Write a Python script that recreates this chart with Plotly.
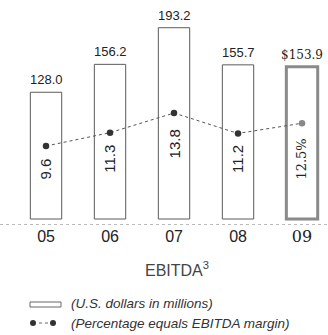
import plotly.graph_objects as go

years = ["05", "06", "07", "08", "09"]
ebitda = [128.0, 156.2, 193.2, 155.7, 153.9]
ebitda_labels = ["128.0", "156.2", "193.2", "155.7", "$153.9"]
margin_pct = [9.6, 11.3, 13.8, 11.2, 12.5]
margin_labels = ["9.6", "11.3", "13.8", "11.2", "12.5%"]

W, H = 328, 335
PLOT_BOTTOM = 225  # px from top
SANS = "Liberation Sans, Arial, sans-serif"
SERIF = "DejaVu Serif, serif"
NARROW = "Liberation Sans Narrow, Liberation Sans, Arial, sans-serif"

x_idx = list(range(len(years)))
fonts = [SANS] * 4 + [SERIF]

fig = go.Figure()
fig.add_trace(go.Bar(
    x=x_idx, y=ebitda, width=0.49,
    marker=dict(color="white",
                line=dict(color=["#5a5a5a"] * 4 + ["#8a8a8a"],
                          width=[1, 1, 1, 1, 3])),
    showlegend=False, hoverinfo="skip",
))
fig.add_trace(go.Scatter(
    x=x_idx, y=margin_pct, yaxis="y2", mode="lines+markers",
    line=dict(color="#555555", width=1, dash="dot"),
    marker=dict(size=6.5, color=["#333333"] * 4 + ["#888888"]),
    showlegend=False, hoverinfo="skip",
))

# value labels above bars
for i, (v, t) in enumerate(zip(ebitda, ebitda_labels)):
    fig.add_annotation(x=i, y=v, xref="x", yref="y", text=t, showarrow=False,
                       yanchor="bottom", yshift=3,
                       font=dict(family=fonts[i], size=13 if i < 4 else 12, color="#222222"))
# rotated margin labels inside bars
for i, (v, t) in enumerate(zip(ebitda, margin_labels)):
    fig.add_annotation(x=i, y=v * 0.39, xref="x", yref="y", text=t, showarrow=False,
                       textangle=-90,
                       font=dict(family=fonts[i], size=15 if i < 4 else 13, color="#222222"))

# baseline (dotted)
fig.add_shape(type="line", xref="paper", yref="y", x0=0, x1=1, y0=-6.06, y1=-6.06,
              line=dict(color="#777777", width=1, dash="dot"))

def py(px):
    return (PLOT_BOTTOM - px) / PLOT_BOTTOM

def pxx(px):
    return px / W

# Title
fig.add_annotation(x=pxx(177), y=py(269), xref="paper", yref="paper",
                   xanchor="center", yanchor="middle",
                   text="EBITDA<sup>3</sup>", showarrow=False,
                   font=dict(family=NARROW, size=16, color="#444444"))

# Legend (manual)
fig.add_shape(type="rect", xref="paper", yref="paper",
              x0=pxx(30), x1=pxx(61), y0=py(307), y1=py(302),
              line=dict(color="#666666", width=1), fillcolor="white")
fig.add_annotation(x=pxx(69), y=py(303), xref="paper", yref="paper",
                   xanchor="left", yanchor="middle",
                   text="<i>(U.S. dollars in millions)</i>", showarrow=False,
                   font=dict(family=NARROW, size=13.5, color="#333333"))
fig.add_shape(type="line", xref="paper", yref="paper",
              x0=pxx(33), x1=pxx(53), y0=py(323), y1=py(323),
              line=dict(color="#666666", width=1, dash="dot"))
for cx in (33, 53):
    fig.add_shape(type="circle", xref="paper", yref="paper",
                  x0=pxx(cx - 3), x1=pxx(cx + 3), y0=py(326), y1=py(320),
                  line=dict(color="#333333", width=0), fillcolor="#333333")
fig.add_annotation(x=pxx(69), y=py(323), xref="paper", yref="paper",
                   xanchor="left", yanchor="middle",
                   text="<i>(Percentage equals EBITDA margin)</i>", showarrow=False,
                   font=dict(family=NARROW, size=13.5, color="#333333"))

ticktext = [f"{y}" for y in years[:4]] + [f'<span style="font-family:DejaVu Serif">{years[4]}</span>']

fig.update_layout(
    width=W, height=H,
    margin=dict(l=0, r=0, t=0, b=H - PLOT_BOTTOM),
    paper_bgcolor="white", plot_bgcolor="white",
    xaxis=dict(range=[-0.719, 4.406], tickmode="array", tickvals=x_idx, ticktext=ticktext,
               showgrid=False, zeroline=False, showline=False, ticks="",
               tickfont=dict(family=SANS, size=16, color="#222222"), fixedrange=True),
    yaxis=dict(range=[-6.06, 221.2], visible=False, showgrid=False, zeroline=False),
    yaxis2=dict(range=[-0.45, 28.18], overlaying="y", visible=False, showgrid=False,
                zeroline=False),
)

fig.write_html("out.html")
